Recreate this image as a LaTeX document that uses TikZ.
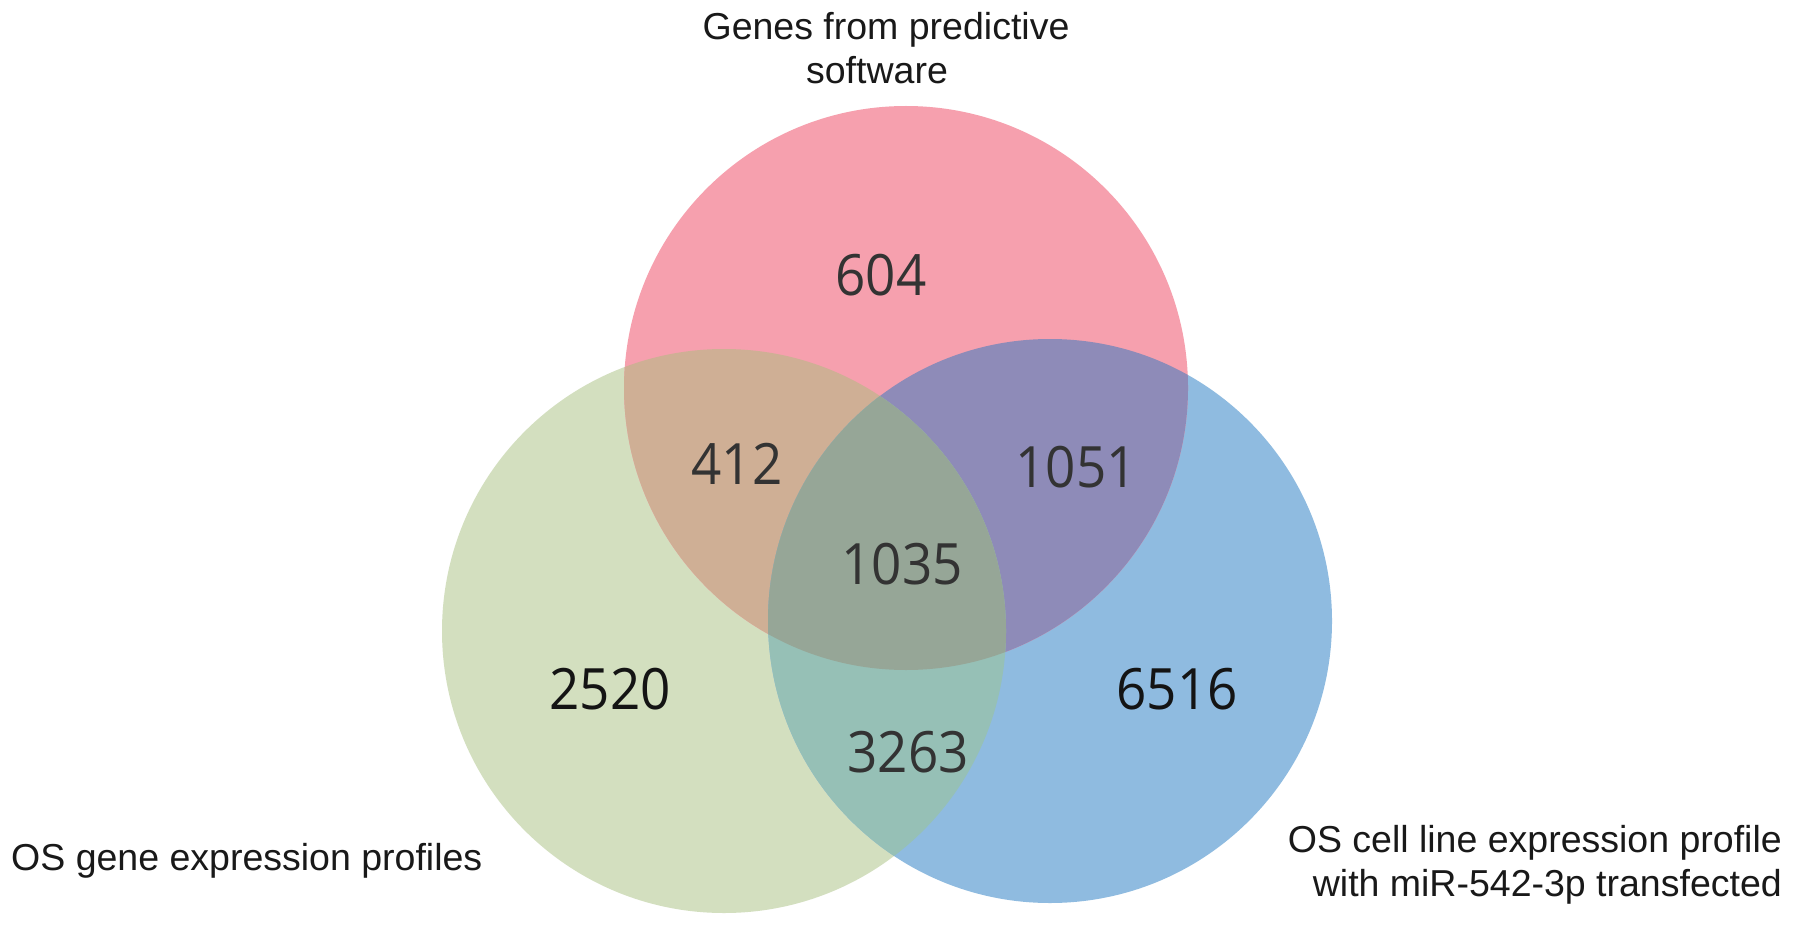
\documentclass[tikz,border=0pt]{standalone}
\usepackage{fontspec}
\setmainfont{Liberation Sans}
\newfontfamily\numfont[FakeStretch=0.93]{Open Sans}
\definecolor{cred}{HTML}{F6A0AE}
\definecolor{cgreen}{HTML}{D3DFBF}
\definecolor{cblue}{HTML}{8FBBE0}
\definecolor{crg}{HTML}{CFAF95}
\definecolor{crb}{HTML}{8E8BB8}
\definecolor{cgb}{HTML}{96C0B6}
\definecolor{crgb}{HTML}{96A697}
\definecolor{numgray}{HTML}{333333}
\definecolor{numdark}{HTML}{141414}
\begin{document}
\begin{tikzpicture}[x=1pt,y=-1pt,
  setlabel/.style={inner sep=0pt, font=\fontsize{37.5}{44}\selectfont, text=black!90},
  count/.style={inner sep=0pt, font=\fontsize{57}{60}\selectfont\numfont, text=numgray},
  countdark/.style={count, text=numdark}]
\useasboundingbox (0,0) rectangle (1795,933);
\fill[white] (0,0) rectangle (1795,933);
\coordinate (cr) at (906,388);
\coordinate (cg) at (724,631);
\coordinate (cb) at (1050,621);
\def\R{282pt}
% base circles
\fill[cgreen] (cg) circle[radius=\R];
\fill[cblue] (cb) circle[radius=\R];
\fill[cred] (cr) circle[radius=\R];
% pairwise overlaps
\begin{scope}
  \clip (cr) circle[radius=\R];
  \fill[crg] (cg) circle[radius=\R];
\end{scope}
\begin{scope}
  \clip (cr) circle[radius=\R];
  \fill[crb] (cb) circle[radius=\R];
\end{scope}
\begin{scope}
  \clip (cg) circle[radius=\R];
  \fill[cgb] (cb) circle[radius=\R];
\end{scope}
% triple overlap
\begin{scope}
  \clip (cr) circle[radius=\R];
  \clip (cg) circle[radius=\R];
  \fill[crgb] (cb) circle[radius=\R];
\end{scope}
% counts
\node[count] (n604) at (881,275) {604};
\node[count] (n412) at (737,464) {412};
\node[count] (n1051) at (1076,467) {1051};
\node[count] (n1035) at (902,564) {1035};
\node[countdark] (n2520) at (610,689) {2520};
\node[countdark] (n6516) at (1177,689) {6516};
\node[count] (n3263) at (908,752) {3263};
% set labels
\node[setlabel, align=center] (lred) at (886,48) {Genes from predictive\\software\hspace*{18pt}};
\node[setlabel, anchor=west] (lgreen) at (11,861) {OS gene expression profiles};
\node[setlabel, align=right, anchor=east] (lblue) at (1782,865) {OS cell line expression profile\\with miR-542-3p transfected};
\end{tikzpicture}
\end{document}
